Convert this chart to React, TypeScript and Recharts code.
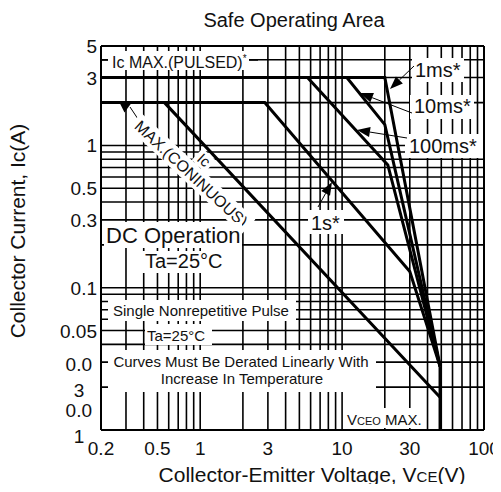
import React from "react";
import { LineChart, Line, XAxis, YAxis, ReferenceLine } from "recharts";

const FONT = '"Liberation Sans", Arial, Helvetica, sans-serif';

// axes
const X_TICKS = [0.2, 0.5, 1, 3, 10, 30, 100];
const Y_TICKS = [0.01, 0.03, 0.05, 0.1, 0.3, 0.5, 1, 3, 5];
const X_GRID = [
  0.3, 0.4, 0.5, 0.6, 0.7, 0.8, 0.9, 1, 2, 3, 4, 5, 6, 7, 8, 9, 10, 20, 30, 40, 50, 60, 70, 80, 90,
];
const Y_GRID = [
  0.02, 0.03, 0.04, 0.05, 0.06, 0.07, 0.08, 0.09, 0.1, 0.2, 0.3, 0.4, 0.5, 0.6, 0.7, 0.8, 0.9, 1, 2, 3, 4,
];

// SOA curves: VCE (V) and IC (A)
const DC_V = [0.2, 0.56, 49];
const DC_I = [2, 2, 0.017];
const S1_V = [0.2, 2.85, 30, 49];
const S1_I = [2, 2, 0.13, 0.028];
const MS100_V = [0.2, 5.7, 21, 49];
const MS100_I = [3, 3, 0.73, 0.028];
const MS10_V = [0.2, 10.8, 20, 49];
const MS10_I = [3, 3, 1.4, 0.028];
const MS1_V = [0.2, 20, 49];
const MS1_I = [3, 3, 0.028];
const VCEO_V = [49, 49];
const VCEO_I = [0.028, 0.01];

const toPoints = (vs: number[], is: number[]) => vs.map((v, k) => ({ v, i: is[k] }));

const SERIES = [
  { key: "dc", pts: toPoints(DC_V, DC_I) },
  { key: "1s", pts: toPoints(S1_V, S1_I) },
  { key: "100ms", pts: toPoints(MS100_V, MS100_I) },
  { key: "10ms", pts: toPoints(MS10_V, MS10_I) },
  { key: "1ms", pts: toPoints(MS1_V, MS1_I) },
  { key: "vceo", pts: toPoints(VCEO_V, VCEO_I) },
];

function XTick({ x, y, payload }: any) {
  return (
    <text x={x} y={y + 25} textAnchor="middle" fontSize={19} fontFamily={FONT} fill="#111">
      {payload.value}
    </text>
  );
}

function YTick({ x, y, payload }: any) {
  const v = payload.value;
  const common = { fontSize: 19, fontFamily: FONT, fill: "#111" };
  // the source prints 0.03 / 0.01 broken over two lines
  if (v === 0.03 || v === 0.01) {
    const top = v === 0.03 ? y + 9 : y - 13;
    return (
      <g>
        <text x={x - 9} y={top} textAnchor="end" {...common}>0.0</text>
        <text x={x - 22} y={top + 26} textAnchor="middle" {...common}>{v === 0.03 ? "3" : "1"}</text>
      </g>
    );
  }
  return (
    <text x={x - 4} y={y + 7} textAnchor="end" {...common}>
      {v}
    </text>
  );
}

function Arrow({ tip, from }: { tip: [number, number]; from: [number, number] }) {
  const [tx, ty] = tip;
  const [fx, fy] = from;
  const len = Math.hypot(fx - tx, fy - ty);
  const ux = (fx - tx) / len;
  const uy = (fy - ty) / len;
  const bx = tx + ux * 13;
  const by = ty + uy * 13;
  const pts = `${tx},${ty} ${bx - uy * 5},${by + ux * 5} ${bx + uy * 5},${by - ux * 5}`;
  return (
    <g>
      <line x1={bx} y1={by} x2={fx} y2={fy} stroke="#000" strokeWidth={1} />
      <polygon points={pts} fill="#000" />
    </g>
  );
}

function Notes() {
  const t = { fontFamily: FONT, fill: "#111" };
  return (
    <svg
      width={493}
      height={476}
      style={{ position: "absolute", left: 0, top: 0, pointerEvents: "none", overflow: "visible" }}
    >
      <g transform="translate(-8,-8)">
        <text x={294} y={27} textAnchor="middle" fontSize={20} {...t}>Safe Operating Area</text>

        <line x1={101} y1={60} x2={111} y2={60} stroke="#000" strokeWidth={1.5} />
        <line x1={247} y1={60} x2={258} y2={60} stroke="#000" strokeWidth={1.5} />
        <rect x={108} y={51} width={141} height={19} fill="#fff" />
        <text x={112} y={68} fontSize={16} {...t}>
          Ic MAX.(PULSED)<tspan fontSize={10} dy={-6}>*</tspan>
        </text>

        <polygon points="119,101.5 132.5,101.5 124.5,112.5" fill="#000" />
        <line x1={130} y1={107} x2={138} y2={119} stroke="#000" strokeWidth={1} />
        <g transform="translate(191.5,173.5) rotate(43)">
          <rect x={-78} y={-10} width={156} height={20} fill="#fff" />
          <rect x={-9} y={-26} width={18} height={16} fill="#fff" />
          <text x={0} y={6} textAnchor="middle" fontSize={16} {...t}>MAX.(CONINUOUS)</text>
          <text x={0} y={-13} textAnchor="middle" fontSize={15} {...t}>Ic</text>
        </g>

        <rect x={104} y={222} width={138} height={26} fill="#fff" />
        <text x={106} y={243} fontSize={22} {...t}>DC Operation</text>
        <rect x={141} y={251} width={86} height={22} fill="#fff" />
        <text x={145} y={268} fontSize={20} {...t}>Ta=25°C</text>

        <rect x={108} y={300} width={188} height={21} fill="#fff" />
        <text x={113} y={316} fontSize={15} {...t}>Single Nonrepetitive Pulse</text>
        <rect x={145} y={324} width={67} height={21} fill="#fff" />
        <text x={147} y={341} fontSize={15} {...t}>Ta=25°C</text>

        <rect x={108} y={350} width={268} height={42} fill="#fff" />
        <text x={241} y={367} textAnchor="middle" fontSize={15} {...t}>Curves Must Be Derated Linearly With</text>
        <text x={242} y={384} textAnchor="middle" fontSize={15} {...t}>Increase In Temperature</text>

        <rect x={345} y={408} width={78} height={20} fill="#fff" />
        <text x={347} y={425} fontSize={15} {...t}>
          V<tspan fontSize={11}>CEO</tspan> MAX.
        </text>

        <rect x={412} y={58} width={52} height={24} fill="#fff" />
        <text x={415} y={77} fontSize={20} {...t}>1ms*</text>
        <rect x={410} y={95} width={64} height={24} fill="#fff" />
        <text x={414} y={113} fontSize={20} {...t}>10ms*</text>
        <rect x={405} y={134} width={78} height={24} fill="#fff" />
        <text x={409} y={153} fontSize={20} {...t}>100ms*</text>
        <rect x={308} y={210} width={36} height={24} fill="#fff" />
        <text x={311} y={230} fontSize={20} {...t}>1s*</text>

        <Arrow tip={[390, 89]} from={[414, 66]} />
        <Arrow tip={[360, 93]} from={[412, 113]} />
        <Arrow tip={[357, 130]} from={[407, 138]} />
        <Arrow tip={[332, 182]} from={[318, 207]} />

        <text x={312} y={482} textAnchor="middle" fontSize={21} {...t}>
          Collector-Emitter Voltage, V<tspan fontSize={15}>CE</tspan>(V)
        </text>
        <text
          x={0}
          y={0}
          transform="translate(25,231) rotate(-90)"
          textAnchor="middle"
          fontSize={21}
          {...t}
        >
          Collector Current,  Ic(A)
        </text>
      </g>
    </svg>
  );
}

export default function App() {
  return (
    <div style={{ position: "relative", width: 493, height: 476 }}>
      <LineChart width={493} height={476} margin={{ top: 38, right: 17, bottom: 0, left: 0 }}>
        <XAxis
          type="number"
          dataKey="v"
          scale="log"
          domain={[0.2, 100]}
          allowDataOverflow
          ticks={X_TICKS}
          interval={0}
          height={54}
          tickSize={0}
          tickMargin={0}
          tickLine={false}
          axisLine={{ stroke: "#000", strokeWidth: 2 }}
          tick={<XTick />}
        />
        <YAxis
          type="number"
          dataKey="i"
          scale="log"
          domain={[0.01, 5]}
          allowDataOverflow
          ticks={Y_TICKS}
          interval={0}
          width={93}
          tickSize={0}
          tickMargin={0}
          tickLine={false}
          axisLine={{ stroke: "#000", strokeWidth: 2 }}
          tick={<YTick />}
        />
        {X_GRID.map((v) => (
          <ReferenceLine key={"gx" + v} x={v} stroke="#000" strokeWidth={1.6} />
        ))}
        {Y_GRID.map((v) => (
          <ReferenceLine key={"gy" + v} y={v} stroke="#000" strokeWidth={1.6} />
        ))}
        <ReferenceLine x={100} stroke="#000" strokeWidth={2} />
        <ReferenceLine y={5} stroke="#000" strokeWidth={2} />
        {SERIES.map((s) => (
          <Line
            key={s.key}
            data={s.pts}
            dataKey="i"
            type="linear"
            stroke="#000"
            strokeWidth={3}
            dot={false}
            activeDot={false}
            isAnimationActive={false}
          />
        ))}
      </LineChart>
      <Notes />
    </div>
  );
}
